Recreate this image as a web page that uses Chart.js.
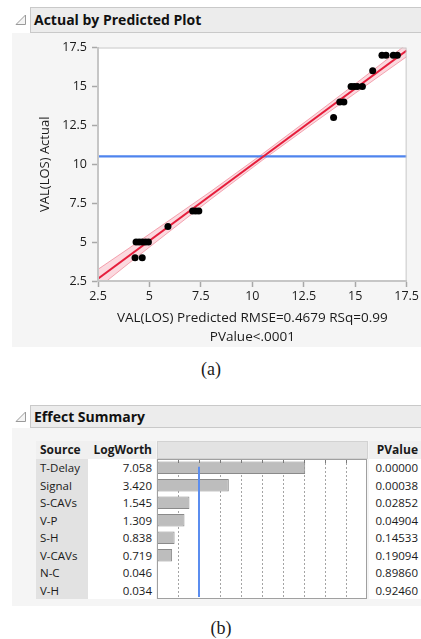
<!DOCTYPE html>
<html>
<head>
<meta charset="utf-8">
<script src="https://cdn.jsdelivr.net/npm/chart.js@4.4.1/dist/chart.umd.min.js"></script>
<style>
  body { margin: 0; width: 421px; height: 639px; background: #fff; position: relative; overflow: hidden;
         font-family: 'Open Sans', sans-serif; color: #1a1a1a; }
  .panel { position: absolute; left: 12px; right: 0; background: #f5f5f5; }
  .titlebar { position: absolute; left: 30px; right: 0; background: #ececec; border: 1px solid #c9c9c9;
              border-right: none; font-weight: bold; font-size: 14px; padding-left: 3px; color: #111; }
  .tri { position: absolute; }
  .cap { position: absolute; font-family: 'Liberation Serif', serif; font-size: 18px; transform: translate(-50%, -50%); }
  .cell { position: absolute; font-size: 11.5px; line-height: 17px; white-space: nowrap; }
  .hdr { font-weight: bold; font-size: 12px; }
  .abs { position: absolute; }
</style>
</head>
<body>
<div class="panel" style="top:33px;height:314px"></div>
<div class="titlebar" style="top:7px;height:24px;line-height:24px">Actual by Predicted Plot</div>
<svg class="tri" style="left:15px;top:14px" width="12" height="12"><polygon points="10.5,1 10.5,10.5 1,10.5" fill="#f4f4f4" stroke="#9a9a9a" stroke-width="1"/></svg>
<div class="abs" style="left:0;top:35px;width:421px;height:312px"><canvas id="apChart" width="421" height="312"></canvas></div>
<div class="cap" style="left:211px;top:369px">(a)</div>

<div class="panel" style="top:428px;height:178px"></div>
<div class="titlebar" style="top:405px;height:21px;line-height:21px">Effect Summary</div>
<svg class="tri" style="left:15px;top:411px" width="12" height="12"><polygon points="10.5,1 10.5,10.5 1,10.5" fill="#f4f4f4" stroke="#9a9a9a" stroke-width="1"/></svg>
<div id="table"></div>
<div class="abs" style="left:150px;top:455px;width:225px;height:150px"><canvas id="esChart" width="225" height="150"></canvas></div>
<div class="cap" style="left:221px;top:628px">(b)</div>

<script>
// (a) Actual by Predicted
const predicted = [4.3, 4.65, 4.35, 4.5, 4.65, 4.8, 4.95, 5.9, 7.1, 7.25, 7.4,
                   13.95, 14.25, 14.45, 14.8, 14.95, 15.1, 15.35, 15.85, 16.3, 16.5, 16.85, 17.05];
const actual = [4, 4, 5, 5, 5, 5, 5, 6, 7, 7, 7,
                13, 14, 14, 15, 15, 15, 15, 16, 17, 17, 17, 17];
const fitX = [2.5, 17.5];
const fitY = [2.65, 17.31];
const bandX = [2.5, 4, 6, 8, 10.5, 13, 15, 17.5];
const bandUpper = [3.25, 4.60, 6.43, 8.27, 10.67, 13.15, 15.16, 17.71];
const bandLower = [2.05, 3.64, 5.71, 7.77, 10.27, 12.67, 14.56, 16.91];
const meanActual = 10.5;
const axisMin = 2.5, axisMax = 17.5, axisStep = 2.5;

// (b) Effect Summary
const sources = ['T-Delay', 'Signal', 'S-CAVs', 'V-P', 'S-H', 'V-CAVs', 'N-C', 'V-H'];
const logWorth = [7.058, 3.420, 1.545, 1.309, 0.838, 0.719, 0.046, 0.034];
const pValues = ['0.00000', '0.00038', '0.02852', '0.04904', '0.14533', '0.19094', '0.89860', '0.92460'];
const logWorthMax = 10;
const sigLogWorth = 2;  // p = 0.01 reference line

const TEXT = '#1a1a1a';
const AXIS_GRAY = '#c6c6c6';

const pts = (xs, ys) => xs.map((x, i) => ({ x: x, y: ys[i] }));

const plotFrame = {
  id: 'plotFrame',
  beforeDraw(chart) {
    const { ctx, chartArea: a } = chart;
    ctx.save();
    ctx.fillStyle = '#fff';
    ctx.fillRect(a.left, a.top, a.width, a.height);
    ctx.restore();
  },
  afterDraw(chart, args, opts) {
    const { ctx, chartArea: a } = chart;
    ctx.save();
    ctx.strokeStyle = opts.color || AXIS_GRAY;
    ctx.lineWidth = 1;
    ctx.strokeRect(a.left + 0.5, a.top + 0.5, a.width - 1, a.height - 1);
    ctx.restore();
  },
};

const lineSet = (data, color, width, order) => ({
  data: data, showLine: true, borderColor: color, borderWidth: width,
  pointRadius: 0, fill: false, order: order,
});

const upperBand = lineSet(pts(bandX, bandUpper), 'rgba(232,70,95,0.45)', 1, 4);
upperBand.fill = '+1';
upperBand.backgroundColor = 'rgba(240,120,140,0.28)';

new Chart(document.getElementById('apChart'), {
  type: 'scatter',
  data: {
    datasets: [
      upperBand,
      lineSet(pts(bandX, bandLower), 'rgba(232,70,95,0.45)', 1, 5),
      lineSet(pts([axisMin, axisMax], [meanActual, meanActual]), '#4f84ee', 2.2, 3),
      lineSet(pts(fitX, fitY), '#e61e3c', 2, 2),
      { data: pts(predicted, actual), backgroundColor: '#000', borderColor: '#000',
        pointRadius: 3.5, borderWidth: 0, order: 0 },
    ],
  },
  options: {
    responsive: false,
    animation: false,
    devicePixelRatio: 1,
    layout: { padding: { top: 10, right: 9, left: 0, bottom: 0 } },
    plugins: { legend: { display: false }, tooltip: { enabled: false }, plotFrame: { color: AXIS_GRAY } },
    scales: {
      x: {
        type: 'linear', min: axisMin, max: axisMax,
        afterFit: (s) => { s.height = 66; },
        ticks: { stepSize: axisStep, color: TEXT, padding: 2, font: { family: 'Open Sans', size: 12.5 } },
        grid: { drawOnChartArea: false, drawTicks: true, tickLength: 6, tickColor: '#a8a8a8', tickWidth: 1.5 },
        border: { color: AXIS_GRAY, width: 2 },
        title: {
          display: true, color: TEXT,
          text: ['VAL(LOS) Predicted RMSE=0.4679 RSq=0.99', 'PValue<.0001'],
          font: { family: 'Open Sans', size: 13.5, lineHeight: '19px' },
          padding: { top: 0, bottom: 0 },
        },
      },
      y: {
        type: 'linear', min: axisMin, max: axisMax,
        afterFit: (s) => { s.width = 98; },
        ticks: { stepSize: axisStep, color: TEXT, padding: 5, font: { family: 'Open Sans', size: 12.5 } },
        grid: { drawOnChartArea: false, drawTicks: true, tickLength: 6, tickColor: '#a8a8a8', tickWidth: 1.5 },
        border: { color: AXIS_GRAY, width: 2 },
        title: {
          display: true, color: TEXT, text: 'VAL(LOS) Actual',
          font: { family: 'Open Sans', size: 13, lineHeight: 1.2 },
          padding: { top: 37, bottom: 0 },
        },
      },
    },
  },
  plugins: [plotFrame],
});

// blue LogWorth reference line and top tick marks
const sigLine = {
  id: 'sigLine',
  afterDatasetsDraw(chart) {
    const { ctx, chartArea: a, scales: { x, y } } = chart;
    ctx.save();
    ctx.strokeStyle = '#7a7a7a';
    ctx.lineWidth = 1;
    for (let v = 1; v < logWorthMax; v++) {
      const px = Math.round(x.getPixelForValue(v)) + 0.5;
      ctx.beginPath(); ctx.moveTo(px, a.top); ctx.lineTo(px, a.top + 4); ctx.stroke();
    }
    const bx = Math.round(x.getPixelForValue(sigLogWorth));
    ctx.strokeStyle = '#5b8def';
    ctx.lineWidth = 2;
    ctx.beginPath();
    ctx.moveTo(bx, y.getPixelForValue(0) - 1);
    ctx.lineTo(bx, a.bottom - 2);
    ctx.stroke();
    ctx.restore();
  },
};

const esChart = new Chart(document.getElementById('esChart'), {
  type: 'bar',
  data: {
    labels: sources,
    datasets: [{
      data: logWorth,
      backgroundColor: '#bdbdbd', borderColor: '#8a8a8a', borderWidth: 1, borderSkipped: false,
      barPercentage: 0.72, categoryPercentage: 1,
    }],
  },
  options: {
    indexAxis: 'y',
    responsive: false,
    animation: false,
    devicePixelRatio: 1,
    layout: { padding: { top: 4, right: 8, left: 7, bottom: 6 } },
    plugins: { legend: { display: false }, tooltip: { enabled: false }, plotFrame: { color: '#a0a0a0' } },
    scales: {
      x: {
        type: 'linear', min: 0, max: logWorthMax, position: 'top',
        afterFit: (s) => { s.height = 0; },
        ticks: { display: false, stepSize: 1 },
        grid: {
          drawTicks: false, lineWidth: 1,
          color: (c) => (c.tick.value === 0 || c.tick.value === logWorthMax) ? 'rgba(0,0,0,0)' : '#a4a4a4',
        },
        border: { display: false, dash: [2, 2] },
      },
      y: { display: false },
    },
  },
  plugins: [plotFrame, sigLine],
});

// table text, placed on the bar chart's rows
const tbl = document.getElementById('table');
function box(left, top, width, height, bg, extra) {
  const d = document.createElement('div');
  d.className = 'abs';
  d.style.cssText += `left:${left}px;top:${top}px;width:${width}px;height:${height}px;background:${bg};${extra || ''}`;
  tbl.appendChild(d);
}
function cell(text, x, yMid, align, cls) {
  const d = document.createElement('div');
  d.className = 'cell ' + (cls || '');
  d.textContent = text;
  d.style.top = (yMid - 8.5) + 'px';
  if (align === 'right') d.style.right = (421 - x) + 'px'; else d.style.left = x + 'px';
  tbl.appendChild(d);
}
const top0 = 455;
const area = esChart.chartArea;
box(36, 441, 120, 18, '#f0f0f0');
box(157, 441, 211, 18, '#e3e3e3', 'box-sizing:border-box;border:1px solid #d2d2d2');
box(369, 441, 52, 18, '#f0f0f0');
box(36, top0 + area.top, 52, area.height, '#e2e2e2');
box(88, top0 + area.top, 68, area.height, '#fff');
box(369, top0 + area.top, 52, area.height, '#fff');
cell('Source', 40, 449.5, 'left', 'hdr');
cell('LogWorth', 152, 449.5, 'right', 'hdr');
cell('PValue', 418, 449.5, 'right', 'hdr');
sources.forEach((s, i) => {
  const ym = top0 + esChart.scales.y.getPixelForValue(i);
  cell(s, 40, ym, 'left');
  cell(logWorth[i].toFixed(3), 152, ym, 'right');
  cell(pValues[i], 418, ym, 'right');
});
</script>
</body>
</html>
